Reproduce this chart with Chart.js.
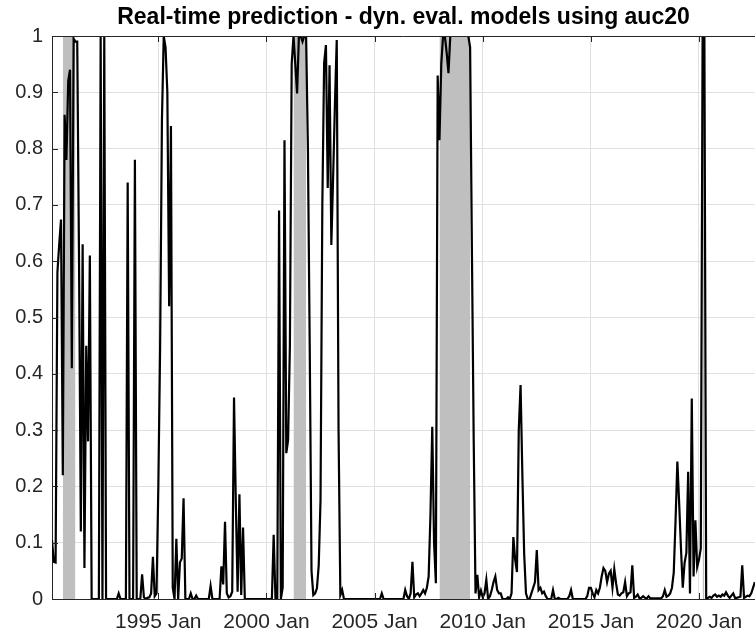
<!DOCTYPE html>
<html>
<head>
<meta charset="utf-8">
<script src="https://cdn.jsdelivr.net/npm/chart.js@4.4.1/dist/chart.umd.min.js"></script>
<style>
  html, body { margin: 0; padding: 0; background: #ffffff; }
  #wrap { width: 755px; height: 632px; }
</style>
</head>
<body>
<div id="wrap"><canvas id="c" width="755" height="632"></canvas></div>
<script>
// ---------------- DATA ----------------
const chartTitle = 'Real-time prediction - dyn. eval. models using auc20';
const seriesStart = '1990-02';   // first monthly observation
const axisEnd = 2022.59;         // right edge of visible axis (decimal year)

// monthly probabilities, one array per year
const p1990 = [0.104, 0.066, 0.065, 0.58, 0.63, 0.674, 0.22, 0.86, 0.78, 0.92, 0.94]; // Feb-Dec
const p1991 = [0.41, 0.995, 0.99, 0.99, 0.6, 0.12, 0.63, 0.055, 0.45, 0.28, 0.61, 0.0];
const p1992 = [0, 0, 0, 0, 1.0, 0.0, 1.0, 0, 0, 0, 0, 0];
const p1993 = [0, 0, 0.01, 0, 0, 0, 0, 0.74, 0, 0, 0, 0.78];
const p1994 = [0, 0, 0, 0.044, 0.003, 0, 0.002, 0.003, 0.01, 0.075, 0.005, 0.01];
const p1995 = [0.2, 0.45, 0.85, 1.0, 0.98, 0.9, 0.52, 0.84, 0.02, 0.0, 0.107, 0.0];
const p1996 = [0.065, 0.072, 0.179, 0, 0, 0, 0.01, 0, 0, 0.006, 0, 0];
const p1997 = [0, 0, 0, 0, 0, 0.023, 0, 0, 0, 0, 0, 0.058];
const p1998 = [0.026, 0.137, 0.01, 0.003, 0.005, 0.013, 0.358, 0.17, 0.013, 0.186, 0.007, 0.127];
const p1999 = [0, 0, 0, 0, 0, 0, 0, 0, 0, 0, 0, 0];
const p2000 = [0, 0, 0, 0, 0.114, 0, 0, 0.69, 0, 0.02, 0.815, 0.259];
const p2001 = [0.282, 0.45, 0.95, 1.0, 0.95, 0.898, 1.0, 1.0, 0.99, 1.0, 1.0, 0.8];
const p2002 = [0.45, 0.05, 0.007, 0.01, 0.019, 0.06, 0.176, 0.7, 0.952, 0.984, 0.73, 0.948];
const p2003 = [0.629, 0.75, 0.88, 0.993, 0.3, 0.007, 0.016, 0, 0, 0, 0, 0];
const p2004 = [0, 0, 0, 0, 0, 0, 0, 0, 0, 0, 0, 0];
const p2005 = [0, 0, 0, 0, 0.01, 0, 0, 0, 0, 0, 0, 0];
const p2006 = [0, 0, 0, 0, 0, 0.016, 0.005, 0, 0.01, 0.066, 0.003, 0.008];
const p2007 = [0.01, 0.005, 0.01, 0.016, 0.01, 0.02, 0.04, 0.15, 0.306, 0.1, 0.028, 0.93];
const p2008 = [0.815, 0.95, 1.0, 1.0, 0.97, 0.934, 1, 1, 1, 1, 1, 1];
const p2009 = [1, 1, 1, 1, 1, 0.98, 0.62, 0.28, 0.01, 0.043, 0.003, 0.015];
const p2010 = [0.003, 0.01, 0.034, 0.0, 0.005, 0.016, 0.03, 0.04, 0.016, 0.01, 0.01, 0.0];
const p2011 = [0.0, 0.0, 0.003, 0.0, 0.01, 0.11, 0.07, 0.048, 0.3, 0.38, 0.22, 0.08];
const p2012 = [0.01, 0, 0, 0.01, 0.02, 0.03, 0.087, 0.016, 0.02, 0.01, 0.013, 0.005];
const p2013 = [0, 0, 0, 0.016, 0, 0, 0.002, 0, 0, 0, 0, 0];
const p2014 = [0.005, 0.016, 0, 0, 0, 0, 0, 0, 0, 0, 0.005, 0.02];
const p2015 = [0.02, 0.01, 0.003, 0.016, 0.01, 0.02, 0.04, 0.055, 0.05, 0.03, 0.045, 0.05];
const p2016 = [0.02, 0.053, 0.028, 0.008, 0.006, 0.01, 0.012, 0.03, 0.005, 0.01, 0.012, 0.06];
const p2017 = [0.002, 0.004, 0.008, 0.001, 0.002, 0.005, 0.002, 0.001, 0.005, 0.001, 0.001, 0.001];
const p2018 = [0.001, 0.001, 0.001, 0.001, 0.005, 0.016, 0.004, 0.006, 0.01, 0.02, 0.047, 0.14];
const p2019 = [0.244, 0.17, 0.09, 0.02, 0.064, 0.082, 0.226, 0.01, 0.356, 0.04, 0.14, 0.057];
const p2020 = [0.07, 0.09, 1.0, 1.0, 0.0, 0.002, 0.004, 0.002, 0.006, 0.008, 0.004, 0.006];
const p2021 = [0.004, 0.008, 0.006, 0.012, 0.006, 0.002, 0.006, 0.01, 0.002, 0.002, 0.003, 0.004];
const p2022 = [0.06, 0.002, 0.004, 0.006, 0.005, 0.01, 0.02, 0.03]; // Jan-Aug

// recession periods (shaded)
const recessionStarts = ['1990-08', '2001-04', '2008-01', '2020-03'];
const recessionEnds   = ['1991-03', '2001-11', '2009-06', '2020-04'];

// axis ticks
const xTickYears  = [1995, 2000, 2005, 2010, 2015, 2020];
const xTickLabels = ['1995 Jan', '2000 Jan', '2005 Jan', '2010 Jan', '2015 Jan', '2020 Jan'];
const yTicks      = [0, 0.1, 0.2, 0.3, 0.4, 0.5, 0.6, 0.7, 0.8, 0.9, 1];
const yTickLabels = ['0', '0.1', '0.2', '0.3', '0.4', '0.5', '0.6', '0.7', '0.8', '0.9', '1'];

// ---------------- BUILD ----------------
function ym(s) { const [y, m] = s.split('-').map(Number); return y + (m - 1) / 12; }
const probSeries = [].concat(p1990, p1991, p1992, p1993, p1994, p1995, p1996, p1997, p1998, p1999,
  p2000, p2001, p2002, p2003, p2004, p2005, p2006, p2007, p2008, p2009, p2010, p2011, p2012,
  p2013, p2014, p2015, p2016, p2017, p2018, p2019, p2020, p2021, p2022);
const t0 = ym(seriesStart);
const linePoints = probSeries.map((v, i) => ({ x: t0 + i / 12, y: v }));

const recessionSets = recessionStarts.map((s, i) => ({
  label: 'rec' + i,
  data: [{ x: ym(s), y: 1 }, { x: ym(recessionEnds[i]), y: 1 }],
  borderWidth: 0,
  pointRadius: 0,
  fill: 'origin',
  backgroundColor: '#bfbfbf',
  borderColor: 'rgba(0,0,0,0)'
}));

const axisColor = '#262626';
const gridColor = '#e0e0e0';
const FONT = "'Liberation Sans', Arial, Helvetica, sans-serif";

const boxPlugin = {
  id: 'boxPlugin',
  afterDatasetsDraw(chart) {
    const { ctx, chartArea: a, scales } = chart;
    ctx.save();
    ctx.strokeStyle = axisColor;
    ctx.lineWidth = 1;
    ctx.beginPath();
    ctx.moveTo(a.left, a.top + 0.5); ctx.lineTo(a.right, a.top + 0.5);
    ctx.stroke();
    ctx.beginPath();
    scales.x.ticks.forEach(t => {
      const px = Math.round(scales.x.getPixelForValue(t.value)) + 0.5;
      ctx.moveTo(px, a.top); ctx.lineTo(px, a.top + 6);
      ctx.moveTo(px, a.bottom); ctx.lineTo(px, a.bottom - 6);
    });
    scales.y.ticks.forEach(t => {
      const py = Math.round(scales.y.getPixelForValue(t.value)) + 0.5;
      ctx.moveTo(a.left, py); ctx.lineTo(a.left + 6, py);
    });
    ctx.stroke();
    ctx.restore();
  },
  afterDraw(chart) {
    const { ctx, chartArea: a } = chart;
    ctx.save();
    ctx.fillStyle = '#000000';
    ctx.font = "bold 23px " + FONT;
    ctx.textAlign = 'center';
    ctx.textBaseline = 'middle';
    ctx.fillText(chartTitle, (a.left + a.right) / 2, 18);
    ctx.restore();
  }
};

new Chart(document.getElementById('c'), {
  type: 'line',
  data: {
    datasets: [{
      label: 'Probability',
      data: linePoints,
      borderColor: '#000000',
      borderWidth: 2.2,
      pointRadius: 0,
      tension: 0,
      fill: false
    }].concat(recessionSets)
  },
  options: {
    responsive: false,
    animation: false,
    layout: { padding: { left: 0, right: 0, top: 36, bottom: 0 } },
    plugins: {
      legend: { display: false },
      tooltip: { enabled: false },
      title: { display: false }
    },
    scales: {
      x: {
        type: 'linear',
        min: t0,
        max: axisEnd,
        afterBuildTicks(scale) { scale.ticks = xTickYears.map(v => ({ value: v })); },
        afterFit(scale) { scale.height = 33; },
        ticks: {
          autoSkip: false,
          maxRotation: 0,
          color: axisColor,
          padding: 11,
          font: { family: FONT, size: 21 },
          callback(v) { const i = xTickYears.indexOf(v); return i >= 0 ? xTickLabels[i] : ''; }
        },
        grid: { color: gridColor, drawTicks: false, lineWidth: 1 },
        border: { display: true, color: axisColor, width: 1 }
      },
      y: {
        min: 0,
        max: 1,
        afterBuildTicks(scale) { scale.ticks = yTicks.map(v => ({ value: v })); },
        afterFit(scale) { scale.width = 52; },
        ticks: {
          autoSkip: false,
          color: axisColor,
          padding: 9,
          font: { family: FONT, size: 20 },
          callback(v) { const i = yTicks.indexOf(v); return i >= 0 ? yTickLabels[i] : ''; }
        },
        grid: { color: gridColor, drawTicks: false, lineWidth: 1 },
        border: { display: true, color: axisColor, width: 1 }
      }
    }
  },
  plugins: [boxPlugin]
});
</script>
</body>
</html>
